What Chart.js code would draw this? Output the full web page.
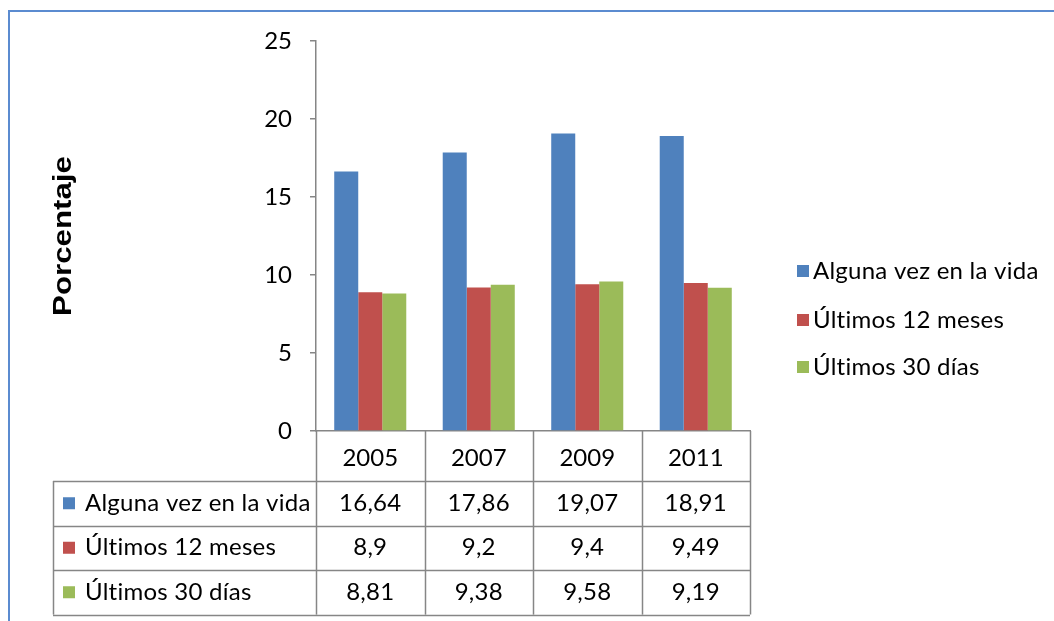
<!DOCTYPE html>
<html>
<head>
<meta charset="utf-8">
<script src="https://cdn.jsdelivr.net/npm/chart.js@4/dist/chart.umd.min.js"></script>
<style>
  html, body { margin: 0; padding: 0; background: #fff; }
  canvas { display: block; }
</style>
</head>
<body>
<canvas id="chart" width="1054" height="621"></canvas>
<script>
// Data (Porcentaje por año)
const years = ['2005', '2007', '2009', '2011'];
const seriesNames = ['Alguna vez en la vida', 'Últimos 12 meses', 'Últimos 30 días'];
const algunaVez = [16.64, 17.86, 19.07, 18.91];
const ultimos12 = [8.9, 9.2, 9.4, 9.49];
const ultimos30 = [8.81, 9.38, 9.58, 9.19];
const seriesColors = ['#4F81BD', '#C0504D', '#9BBB59'];
const yMin = 0, yMax = 25, yStep = 5;

const FONT = 'Lato, "Open Sans", sans-serif';
const FONT_SIZE = 24;
const LINE = '#868686';

const fmt = v => String(v).replace('.', ',');

// frame, data table, legend and axis title
const extrasPlugin = {
    id: 'extras',
    afterDraw(chart) {
        const ctx = chart.ctx;
        const x = chart.scales.x;
        const area = chart.chartArea;
        const half = (x.getPixelForValue(1) - x.getPixelForValue(0)) / 2;

        ctx.save();

        // blue outer frame (top + left)
        ctx.strokeStyle = '#5B8BD0';
        ctx.lineWidth = 2;
        ctx.beginPath();
        ctx.moveTo(1054, 11);
        ctx.lineTo(9, 11);
        ctx.lineTo(9, 621);
        ctx.stroke();

        // data table
        const tableLeft = 53;
        const headerBottom = 481;
        const rowH = 44.5;
        const nRows = chart.data.datasets.length;
        const tableBottom = headerBottom + rowH * nRows;

        ctx.strokeStyle = LINE;
        ctx.lineWidth = 1.5;
        ctx.beginPath();
        // vertical lines on category boundaries
        for (let i = 0; i <= years.length; i++) {
            const px = Math.round(x.getPixelForValue(i) - half) + 0.5;
            ctx.moveTo(px, area.bottom);
            ctx.lineTo(px, tableBottom);
        }
        // horizontal row lines
        for (let r = 0; r <= nRows; r++) {
            const py = Math.round(headerBottom + r * rowH) + 0.5;
            ctx.moveTo(tableLeft, py);
            ctx.lineTo(area.right, py);
        }
        ctx.moveTo(tableLeft + 0.5, headerBottom);
        ctx.lineTo(tableLeft + 0.5, tableBottom);
        ctx.stroke();

        ctx.font = FONT_SIZE + 'px ' + FONT;
        ctx.letterSpacing = '0.25px'; // also stops the "ti" ligature
        ctx.textBaseline = 'middle';
        chart.data.datasets.forEach((ds, r) => {
            const cy = headerBottom + r * rowH + rowH / 2;
            ctx.fillStyle = ds.backgroundColor;
            ctx.fillRect(63, cy - 6, 12, 12);
            ctx.fillStyle = '#000';
            ctx.textAlign = 'left';
            ctx.fillText(ds.label, 85, cy);
            ctx.textAlign = 'center';
            ds.data.forEach((v, i) => {
                ctx.fillText(fmt(v), x.getPixelForValue(i), cy);
            });
        });

        // legend on the right
        const legendY = [271, 320, 367];
        chart.data.datasets.forEach((ds, r) => {
            ctx.fillStyle = ds.backgroundColor;
            ctx.fillRect(797, legendY[r] - 6, 12, 12);
            ctx.fillStyle = '#000';
            ctx.textAlign = 'left';
            ctx.fillText(ds.label, 813, legendY[r]);
        });

        // y axis title, stretched like the original
        ctx.letterSpacing = '0px';
        ctx.translate(64, (area.top + area.bottom) / 2);
        ctx.rotate(-Math.PI / 2);
        ctx.scale(1.25, 1);
        ctx.font = 'bold 25px "Liberation Sans", Arial, sans-serif';
        ctx.textAlign = 'center';
        ctx.fillStyle = '#000';
        ctx.fillText('Porcentaje', 0, 0);

        ctx.restore();
    }
};

new Chart(document.getElementById('chart'), {
    type: 'bar',
    data: {
        labels: years,
        datasets: [
            { label: seriesNames[0], data: algunaVez, backgroundColor: seriesColors[0] },
            { label: seriesNames[1], data: ultimos12, backgroundColor: seriesColors[1] },
            { label: seriesNames[2], data: ultimos30, backgroundColor: seriesColors[2] }
        ]
    },
    options: {
        responsive: false,
        animation: false,
        layout: { padding: { top: 41, right: 304, bottom: 0, left: 0 } },
        datasets: { bar: { categoryPercentage: 0.664, barPercentage: 1.0 } },
        plugins: {
            legend: { display: false },
            tooltip: { enabled: false }
        },
        scales: {
            x: {
                grid: { display: false },
                border: { display: true, color: LINE, width: 1.5 },
                ticks: { color: '#000', font: { family: FONT, size: FONT_SIZE }, padding: 5 },
                afterFit(scale) { scale.height = 190; }
            },
            y: {
                min: yMin,
                max: yMax,
                grid: { drawOnChartArea: false, drawTicks: true, tickLength: 6, color: LINE, lineWidth: 1.5 },
                border: { display: true, color: LINE, width: 1.5 },
                ticks: { stepSize: yStep, color: '#000', font: { family: FONT, size: FONT_SIZE }, padding: 18 },
                afterFit(scale) { scale.width = 316; }
            }
        }
    },
    plugins: [extrasPlugin]
});
</script>
</body>
</html>
